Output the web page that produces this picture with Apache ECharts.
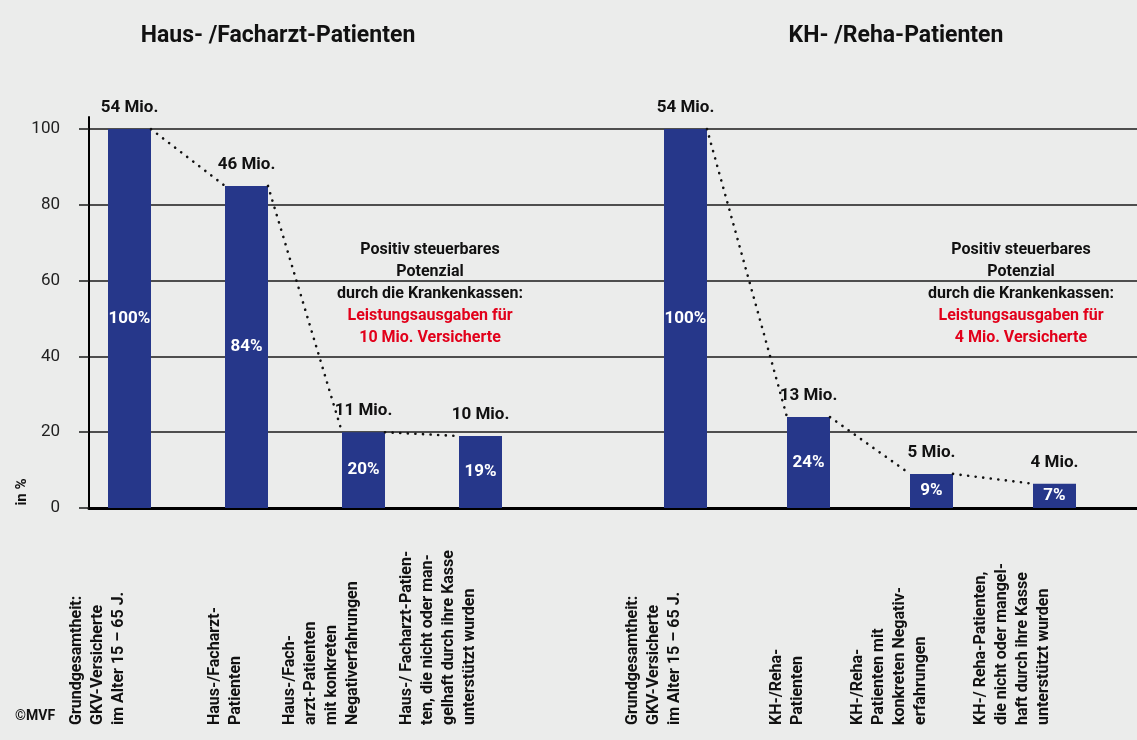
<!DOCTYPE html>
<html>
<head>
<meta charset="utf-8">
<script src="https://cdn.jsdelivr.net/npm/echarts@6/dist/echarts.min.js"></script>
<style>
  html, body { margin: 0; padding: 0; background: #ebeceb; }
  #chart { width: 1137px; height: 740px; }
</style>
</head>
<body>
<div id="chart"></div>
<script>
// Werte aus der Grafik
const leftCats = [
  'Grundgesamtheit:\nGKV-Versicherte\nim Alter 15 – 65 J.',
  'Haus-/Facharzt-\nPatienten',
  'Haus-/Fach-\narzt-Patienten\nmit konkreten\nNegativerfahrungen',
  'Haus-/ Facharzt-Patien-\nten, die nicht oder man-\ngelhaft durch ihre Kasse\nunterstützt wurden'
]
const rightCats = [
  'Grundgesamtheit:\nGKV-Versicherte\nim Alter 15 – 65 J.',
  'KH-/Reha-\nPatienten',
  'KH-/Reha-\nPatienten mit\nkonkreten Negativ-\nerfahrungen',
  'KH-/ Reha-Patienten,\ndie nicht oder mangel-\nhaft durch ihre Kasse\nunterstützt wurden'
]
const leftValues = [100, 85, 20, 19]
const rightValues = [100, 24, 9, 6.4]
const leftPct = ['100%', '84%', '20%', '19%']
const rightPct = ['100%', '24%', '9%', '7%']
const leftMio = ['54 Mio.', '46 Mio.', '11 Mio.', '10 Mio.']
const rightMio = ['54 Mio.', '13 Mio.', '5 Mio.', '4 Mio.']
const yTicks = [0, 20, 40, 60, 80, 100]

const FONT = "'Liberation Sans Narrow', Roboto, sans-serif"
const BAR_W = 43
const Y_MAX = 103.2
const LEFT_GRID = { left: 71, width: 468 }
const RIGHT_GRID = { left: 624, width: 492 }

// gepunktete Verbindung: Ecke rechts oben -> Ecke links oben der naechsten Saeule
function dotted(values, gridWidth) {
  const h = BAR_W / 2 / (gridWidth / values.length)
  const pts = []
  for (let i = 0; i < values.length - 1; i++) {
    pts.push([i + h, values[i]], [i + 1 - h, values[i + 1]], '-')
  }
  return pts
}

function hiddenY(gridIndex) {
  return { type: 'value', gridIndex, min: 0, max: Y_MAX, show: false }
}
function catX(gridIndex, cats) {
  return {
    type: 'category',
    gridIndex,
    data: cats,
    axisLine: { show: false },
    axisTick: { show: false },
    axisLabel: {
      rotate: 90,
      interval: 0,
      margin: 217,
      align: 'left',
      verticalAlign: 'bottom',
      fontFamily: FONT,
      fontWeight: 'bold',
      fontSize: 16,
      lineHeight: 21,
      color: '#111'
    }
  }
}
function lineX(gridIndex) {
  return { type: 'value', gridIndex, min: -0.5, max: 3.5, show: false }
}
function barSeries(idx, values, pct) {
  return {
    type: 'bar',
    xAxisIndex: idx,
    yAxisIndex: idx,
    barWidth: BAR_W,
    data: values,
    itemStyle: { color: '#26378a' },
    label: {
      show: true,
      position: 'inside',
      formatter: p => pct[p.dataIndex],
      color: '#fff',
      fontFamily: FONT,
      fontWeight: 'bold',
      fontSize: 17
    }
  }
}
function mioSeries(idx, values, mio) {
  return {
    type: 'bar',
    xAxisIndex: idx,
    yAxisIndex: idx,
    barWidth: BAR_W,
    barGap: '-100%',
    data: values,
    itemStyle: { color: 'transparent' },
    silent: true,
    label: {
      show: true,
      position: 'top',
      distance: 13,
      formatter: p => mio[p.dataIndex],
      color: '#111',
      fontFamily: FONT,
      fontWeight: 'bold',
      fontSize: 17
    }
  }
}
function dotSeries(xIdx, yIdx, values, gridWidth) {
  return {
    type: 'line',
    xAxisIndex: xIdx,
    yAxisIndex: yIdx,
    data: dotted(values, gridWidth),
    symbol: 'none',
    z: 5,
    lineStyle: { color: '#111', width: 2.6, type: [0.1, 7.5], cap: 'round' }
  }
}
function note(x, amount) {
  return {
    type: 'text',
    x,
    y: 294,
    style: {
      text: '{b|Positiv steuerbares}\n{b|Potenzial}\n{b|durch die Krankenkassen:}\n{r|Leistungsausgaben für}\n{r|' + amount + ' Versicherte}',
      align: 'center',
      verticalAlign: 'middle',
      rich: {
        b: { fontFamily: FONT, fontWeight: 'bold', fontSize: 16, lineHeight: 22, fill: '#111', align: 'center' },
        r: { fontFamily: FONT, fontWeight: 'bold', fontSize: 16, lineHeight: 22, fill: '#e2001a', align: 'center' }
      }
    }
  }
}

const chart = echarts.init(document.getElementById('chart'))
chart.setOption({
  backgroundColor: '#ebeceb',
  animation: false,
  grid: [
    { left: 89, right: 0, top: 117, bottom: 232 },
    { left: LEFT_GRID.left, width: LEFT_GRID.width, top: 117, bottom: 232 },
    { left: RIGHT_GRID.left, width: RIGHT_GRID.width, top: 117, bottom: 232 }
  ],
  xAxis: [
    {
      type: 'value', gridIndex: 0, min: 0, max: 1,
      axisLine: { show: true, lineStyle: { color: '#000', width: 3 } },
      axisTick: { show: false }, axisLabel: { show: false }, splitLine: { show: false }
    },
    catX(1, leftCats),
    catX(2, rightCats),
    lineX(1),
    lineX(2)
  ],
  yAxis: [
    {
      type: 'value', gridIndex: 0, min: 0, max: Y_MAX, interval: 20,
      axisLine: { show: true, lineStyle: { color: '#000', width: 2 } },
      axisTick: { show: true, length: 10, customValues: yTicks, lineStyle: { color: '#1a1a1a', width: 1.5 } },
      axisLabel: {
        customValues: yTicks, margin: 29,
        fontFamily: FONT, fontSize: 17, color: '#222'
      },
      splitLine: { show: true, lineStyle: { color: '#1a1a1a', width: 1.5 } }
    },
    hiddenY(1),
    hiddenY(2)
  ],
  series: [
    barSeries(1, leftValues, leftPct),
    mioSeries(1, leftValues, leftMio),
    barSeries(2, rightValues, rightPct),
    mioSeries(2, rightValues, rightMio),
    dotSeries(3, 1, leftValues, LEFT_GRID.width),
    dotSeries(4, 2, rightValues, RIGHT_GRID.width)
  ],
  graphic: [
    {
      type: 'text', x: 278, y: 36,
      style: { text: 'Haus- /Facharzt-Patienten', align: 'center', verticalAlign: 'middle', fontFamily: FONT, fontWeight: 'bold', fontSize: 23, fill: '#111' }
    },
    {
      type: 'text', x: 896, y: 36,
      style: { text: 'KH- /Reha-Patienten', align: 'center', verticalAlign: 'middle', fontFamily: FONT, fontWeight: 'bold', fontSize: 23, fill: '#111' }
    },
    note(430, '10 Mio.'),
    note(1021, '4 Mio.'),
    {
      type: 'text', x: 22, y: 492, rotation: Math.PI / 2,
      style: { text: 'in %', align: 'center', verticalAlign: 'middle', fontFamily: FONT, fontWeight: 'bold', fontSize: 15, fill: '#111' }
    },
    {
      type: 'text', x: 15, y: 716,
      style: { text: '©MVF', align: 'left', verticalAlign: 'middle', fontFamily: FONT, fontWeight: 'bold', fontSize: 14, fill: '#111' }
    }
  ]
})
</script>
</body>
</html>
